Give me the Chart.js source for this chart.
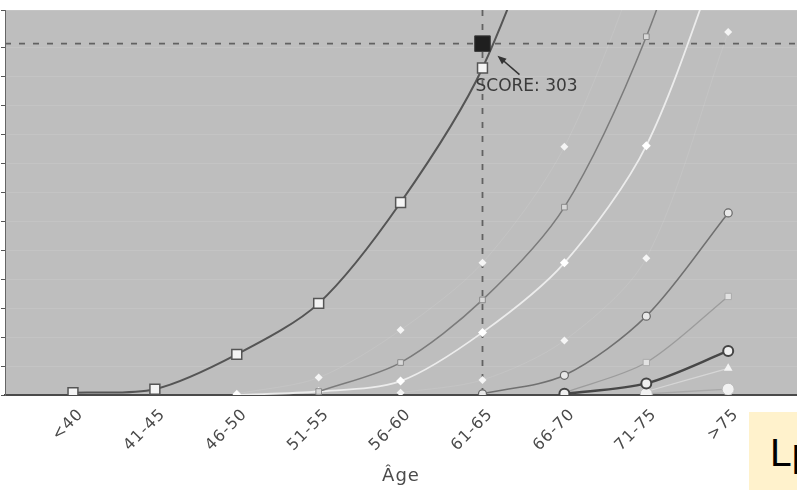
<!DOCTYPE html>
<html lang="fr">
<head>
<meta charset="utf-8">
<title>Score selon l'âge</title>
<script src="https://cdn.jsdelivr.net/npm/chart.js@4/dist/chart.umd.min.js"></script>
<style>
  html, body { margin: 0; padding: 0; background: #fff; overflow: hidden; }
  #wrap { position: relative; width: 797px; height: 493px; }
  #c { position: absolute; left: 0; top: 0; filter: blur(0.5px); }
  #note { position: absolute; left: 749px; top: 412px; width: 60px; height: 78px; background: #fff2cc; }
  #note span { position: absolute; left: 21px; top: 21px; font: 39px "Liberation Sans", Arial, sans-serif; line-height: 1; color: #000; white-space: nowrap; }
</style>
</head>
<body>
<div id="wrap">
  <canvas id="c" width="797" height="493"></canvas>
  <div id="note"><span>Lp</span></div>
</div>
<script>
// Age bands (x axis)
const ageBands = ['<40', '41-45', '46-50', '51-55', '56-60', '61-65', '66-70', '71-75', '>75'];

// Score per age band for each risk profile (null = not plotted)
const profileA = [2, 5, 35, 79, 166, 282, 470, 700, 1000];
const profileB = [null, null, null, 3, 28, 82, 162, 309, 515];
const profileC = [null, null, 0, 3, 12, 54, 114, 215, 400];
const profileD = [null, null, 1, 15, 56, 114, 214, 390, 600];
const profileE = [null, null, null, null, 2, 13, 47, 118, 313];
const profileF = [null, null, null, null, null, 1, 17, 68, 157];
const profileG = [null, null, null, null, null, null, 2, 28, 85];
const profileH = [null, null, null, null, null, null, 1, 10, 38];
const profileI = [null, null, null, null, null, null, null, 1, 5];
const profileJ = [null, null, null, null, null, null, null, 3, 23];

// Highlighted patient score
const scoreAge = '61-65';
const scoreValue = 303;
const scoreLabel = 'SCORE: 303';

// Y axis range and step
const yMin = 0;
const yMax = 332;
const yStep = 25;

const toPoints = arr => arr.map((v, i) => ({ x: i, y: v }));

function series(data, line, width, pStyle, pRadius, pFill, pBorder, pBorderWidth) {
  return {
    data: toPoints(data),
    borderColor: line,
    borderWidth: width,
    tension: 0.3,
    spanGaps: false,
    pointStyle: pStyle,
    pointRadius: pRadius,
    pointBackgroundColor: pFill,
    pointBorderColor: pBorder,
    pointBorderWidth: pBorderWidth
  };
}

const scoreIndex = ageBands.indexOf(scoreAge);

const datasets = [
  {
    data: [{ x: scoreIndex, y: scoreValue }],
    showLine: false,
    pointStyle: 'rect',
    pointRadius: 11,
    pointBackgroundColor: '#1f1f1f',
    pointBorderColor: '#3a3a3a',
    pointBorderWidth: 1
  },
  series(profileA, '#555555', 2, 'rect', 7, '#f4f4f4', '#555555', 1.5),
  series(profileH, '#474747', 2.5, 'circle', 5, '#f0f0f0', '#444444', 2),
  series(profileF, '#707070', 1.5, 'circle', 4, '#e8e8e8', '#666666', 1.2),
  series(profileB, '#7b7b7b', 1.5, 'rect', 4, '#d8d8d8', '#8a8a8a', 1),
  series(profileG, '#9c9c9c', 1.3, 'rect', 4.5, '#e2e2e2', '#aaaaaa', 1),
  series(profileI, '#a9a9a9', 1.3, 'circle', 6, '#f2f2f2', '#bbbbbb', 1),
  series(profileC, '#ececec', 1.8, 'rectRot', 4.5, '#ffffff', '#ffffff', 0),
  series(profileJ, 'rgba(230,230,230,0.6)', 1.2, 'triangle', 5, '#f4f4f4', '#f4f4f4', 0),
  series(profileD, 'rgba(235,235,235,0.12)', 1, 'rectRot', 4, '#f5f5f5', '#f5f5f5', 0),
  series(profileE, 'rgba(235,235,235,0.12)', 1, 'rectRot', 4, '#f5f5f5', '#f5f5f5', 0)
];

// Plot background, reference lines through the highlighted score, and its callout
const plotDecor = {
  id: 'plotDecor',
  beforeDraw(chart) {
    const { ctx, chartArea: a } = chart;
    ctx.letterSpacing = '1px';
    ctx.save();
    ctx.fillStyle = '#bebebe';
    ctx.fillRect(a.left, a.top, a.right - a.left, a.bottom - a.top);
    ctx.restore();
  },
  beforeDatasetsDraw(chart) {
    const { ctx, chartArea: a, scales } = chart;
    const px = scales.x.getPixelForValue(scoreIndex);
    const py = scales.y.getPixelForValue(scoreValue);
    ctx.save();
    ctx.strokeStyle = '#626262';
    ctx.lineWidth = 1.8;
    ctx.setLineDash([6, 8]);
    ctx.beginPath();
    ctx.moveTo(a.left, py);
    ctx.lineTo(a.right, py);
    ctx.moveTo(px, a.top);
    ctx.lineTo(px, a.bottom);
    ctx.stroke();
    ctx.restore();
  },
  afterDatasetsDraw(chart) {
    const { ctx, scales } = chart;
    const px = scales.x.getPixelForValue(scoreIndex);
    const py = scales.y.getPixelForValue(scoreValue);
    ctx.save();
    ctx.letterSpacing = '0px';
    // arrow pointing at the score marker
    const tipX = px + 15, tipY = py + 12;
    const tailX = px + 37, tailY = py + 31;
    const ang = Math.atan2(tipY - tailY, tipX - tailX);
    ctx.strokeStyle = '#333';
    ctx.fillStyle = '#333';
    ctx.lineWidth = 1.5;
    ctx.beginPath();
    ctx.moveTo(tailX, tailY);
    ctx.lineTo(tipX - 4 * Math.cos(ang), tipY - 4 * Math.sin(ang));
    ctx.stroke();
    ctx.beginPath();
    ctx.moveTo(tipX, tipY);
    ctx.lineTo(tipX - 9 * Math.cos(ang) + 3.5 * Math.sin(ang), tipY - 9 * Math.sin(ang) - 3.5 * Math.cos(ang));
    ctx.lineTo(tipX - 9 * Math.cos(ang) - 3.5 * Math.sin(ang), tipY - 9 * Math.sin(ang) + 3.5 * Math.cos(ang));
    ctx.closePath();
    ctx.fill();
    // label
    ctx.font = '17px "DejaVu Sans", Verdana, sans-serif';
    ctx.fillStyle = '#3a3a3a';
    ctx.textBaseline = 'alphabetic';
    ctx.textAlign = 'left';
    ctx.fillText(scoreLabel, px - 7, py + 47);
    ctx.restore();
  }
};

new Chart(document.getElementById('c'), {
  type: 'line',
  data: { datasets },
  plugins: [plotDecor],
  options: {
    responsive: false,
    animation: false,
    devicePixelRatio: 1,
    layout: { autoPadding: false, padding: { top: 10, left: 1, right: 0, bottom: 0 } },
    plugins: { legend: { display: false }, tooltip: { enabled: false } },
    scales: {
      x: {
        type: 'linear',
        min: -0.83,
        max: 8.84,
        afterBuildTicks: scale => { scale.ticks = ageBands.map((_, i) => ({ value: i })); },
        afterFit: scale => {
          scale.height = 98;
          scale.paddingLeft = 0;
          scale.paddingRight = 0;
          scale.paddingTop = 0;
          scale.paddingBottom = 0;
        },
        grid: { display: false },
        border: { display: true, color: '#4a4a4a', width: 2 },
        ticks: {
          autoSkip: false,
          minRotation: 45,
          maxRotation: 45,
          padding: 2,
          labelOffset: 8,
          color: '#4a4a4a',
          font: { family: '"DejaVu Sans", Verdana, sans-serif', size: 16 },
          callback: v => ageBands[v]
        },
        title: {
          display: true,
          text: 'Âge',
          color: '#4a4a4a',
          font: { family: '"DejaVu Sans", Verdana, sans-serif', size: 18 },
          padding: { top: 0, bottom: 6 }
        }
      },
      y: {
        min: yMin,
        max: yMax,
        afterFit: scale => {
          scale.width = 4;
          scale.paddingTop = 0;
          scale.paddingBottom = 0;
        },
        ticks: { display: false, stepSize: yStep },
        grid: {
          color: 'rgba(255,255,255,0.1)',
          tickColor: '#555',
          tickLength: 4,
          drawTicks: true
        },
        border: { display: true, color: '#666', width: 1 }
      }
    }
  }
});
</script>
</body>
</html>
